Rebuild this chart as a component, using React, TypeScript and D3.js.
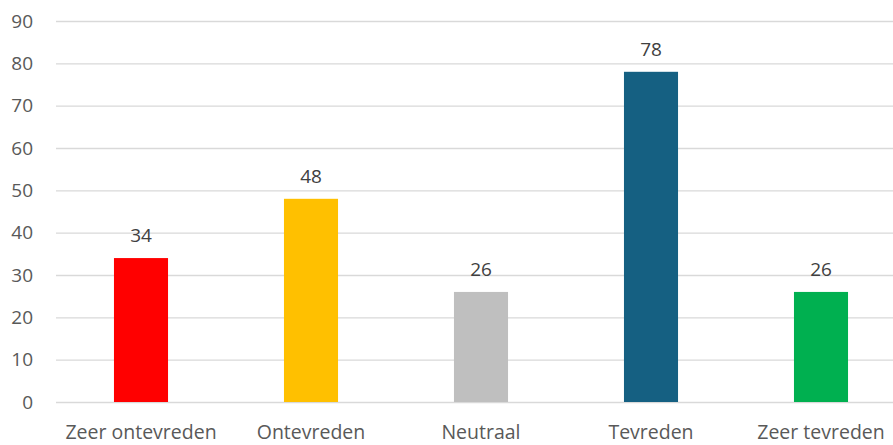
import React, { useEffect, useRef } from 'react';
import * as d3 from 'd3';

const categories = ['Zeer ontevreden', 'Ontevreden', 'Neutraal', 'Tevreden', 'Zeer tevreden'];
const values = [34, 48, 26, 78, 26];
const barColors = ['#ff0000', '#ffc000', '#bfbfbf', '#156082', '#00b050'];
const yTicks = [0, 10, 20, 30, 40, 50, 60, 70, 80, 90];

const width = 893;
const height = 445;

const App: React.FC = () => {
  const svgRef = useRef<SVGSVGElement>(null);

  useEffect(() => {
    if (!svgRef.current) return;
    const svg = d3.select(svgRef.current);
    svg.selectAll('*').remove();

    const left = 56;
    const right = 906;
    const top = 21;
    const bottom = 402;
    const font = "'Open Sans', 'Liberation Sans', sans-serif";

    const x = d3.scaleBand<string>().domain(categories).range([left, right]).paddingInner(0.682).paddingOuter(0.341);
    const y = d3.scaleLinear().domain([0, 90]).range([bottom, top]);

    // gridlines
    svg.append('g')
      .selectAll('line')
      .data(yTicks)
      .enter().append('line')
      .attr('x1', left)
      .attr('x2', width)
      .attr('y1', d => y(d) + 0.5)
      .attr('y2', d => y(d) + 0.5)
      .attr('stroke', '#d9d9d9')
      .attr('stroke-width', 1.3);

    // y labels
    svg.append('g')
      .selectAll('text')
      .data(yTicks)
      .enter().append('text')
      .attr('x', 33)
      .attr('y', d => y(d))
      .attr('dy', '0.35em')
      .attr('text-anchor', 'end')
      .style('font-family', font)
      .style('font-size', '19px')
      .style('fill', '#595959')
      .text(d => d);

    // bars
    svg.append('g')
      .selectAll('rect')
      .data(values)
      .enter().append('rect')
      .attr('x', (d, i) => x(categories[i])!)
      .attr('width', x.bandwidth())
      .attr('y', d => y(d))
      .attr('height', d => bottom - y(d))
      .attr('fill', (d, i) => barColors[i]);

    // value labels
    svg.append('g')
      .selectAll('text')
      .data(values)
      .enter().append('text')
      .attr('x', (d, i) => x(categories[i])! + x.bandwidth() / 2)
      .attr('y', d => y(d) - 16)
      .attr('text-anchor', 'middle')
      .style('font-family', font)
      .style('font-size', '19px')
      .style('fill', '#404040')
      .text(d => d);

    // category labels
    svg.append('g')
      .selectAll('text')
      .data(categories)
      .enter().append('text')
      .attr('x', d => x(d)! + x.bandwidth() / 2)
      .attr('y', 439)
      .attr('text-anchor', 'middle')
      .style('font-family', font)
      .style('font-size', '19.5px')
      .style('fill', '#595959')
      .text(d => d);
  }, []);

  return (
    <svg
      ref={svgRef}
      width={width}
      height={height}
      style={{ position: 'absolute', left: 0, top: 0, background: '#fff', display: 'block' }}
    />
  );
};

export default App;
